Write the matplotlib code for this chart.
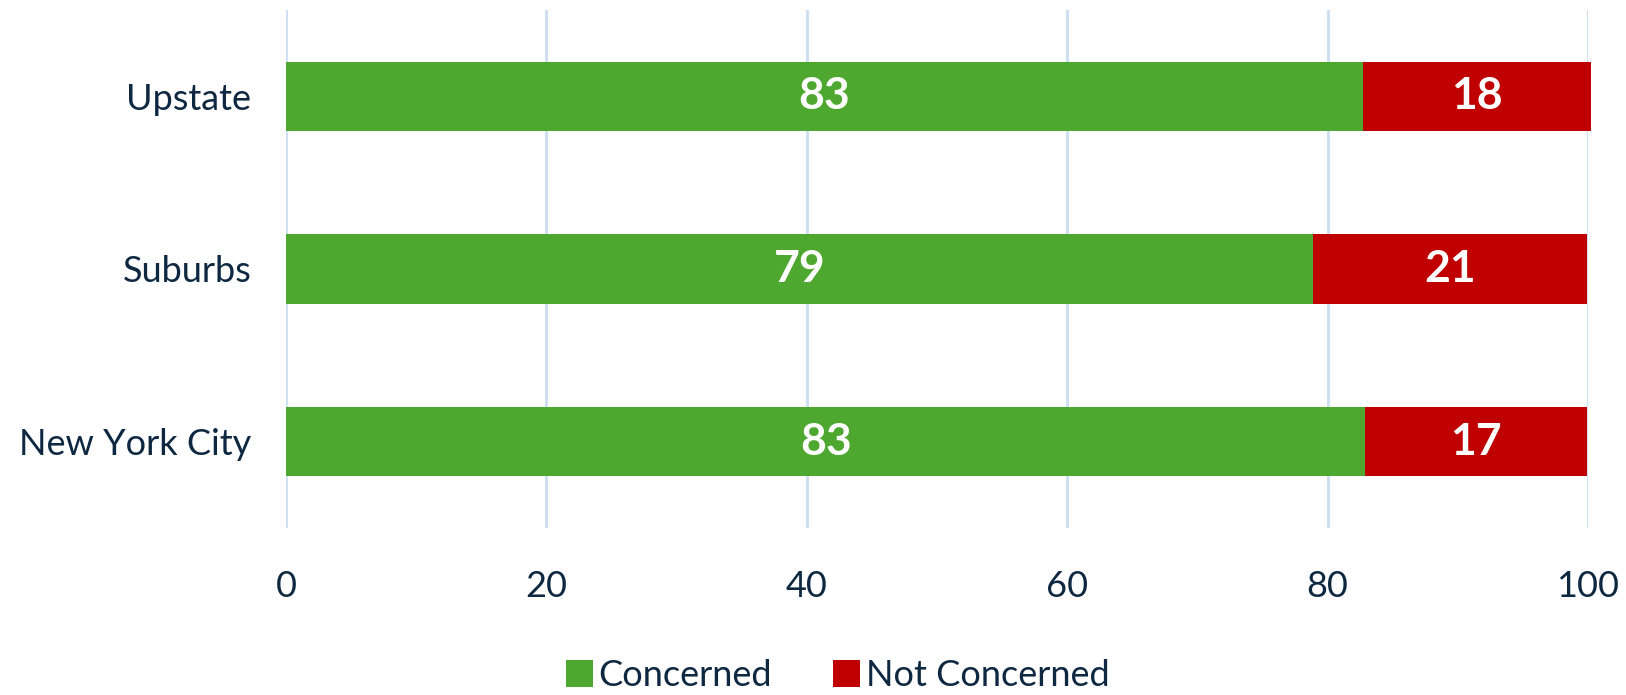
import numpy as np
import matplotlib.pyplot as plt

regions = ["New York City", "Suburbs", "Upstate"]
concerned = [82.9, 78.9, 82.7]
not_concerned = [17.0, 21.0, 17.5]
xticks = [0, 20, 40, 60, 80, 100]

green = "#4ea72e"
red = "#c00000"
ink = "#0e2841"

plt.rcParams['font.family'] = ['Lato', 'DejaVu Sans']

fig = plt.figure(figsize=(16.26, 6.95), dpi=100)
ax = fig.add_axes([0.1759, 0.2403, 0.9766 - 0.1759, 0.9856 - 0.2403])

y = np.arange(len(regions))
b1 = ax.barh(y, concerned, height=0.4, color=green, label="Concerned", zorder=3)
b2 = ax.barh(y, not_concerned, left=concerned, height=0.4, color=red,
             label="Not Concerned", zorder=3)

for bars in (b1, b2):
    for rect in bars:
        rect.set_clip_on(False)
        w = rect.get_width()
        ax.text(rect.get_x() + w / 2, rect.get_y() + rect.get_height() / 2,
                "%.0f" % w, ha="center", va="center", color="white",
                fontsize=32, fontweight="bold", zorder=4)

ax.set_xlim(0, 100)
ax.set_ylim(-0.5, 2.5)
ax.set_xticks(xticks)
ax.set_yticks(y)
ax.set_yticklabels(regions)
ax.tick_params(axis="x", length=0, pad=30, labelsize=26, labelcolor=ink)
ax.tick_params(axis="y", length=0, pad=25, labelsize=26, labelcolor=ink)
ax.xaxis.grid(True, color="#cfe0f3", linewidth=2.2, zorder=0)
ax.set_axisbelow(True)
for s in ax.spines.values():
    s.set_visible(False)

fig.legend(handles=[b1, b2], loc="center", bbox_to_anchor=(0.515, 0.028),
           ncol=2, frameon=False, fontsize=26, labelcolor=ink,
           handlelength=0.75, handleheight=0.75, handletextpad=0.15,
           columnspacing=1.7)

fig.savefig("out.png", dpi=100)
